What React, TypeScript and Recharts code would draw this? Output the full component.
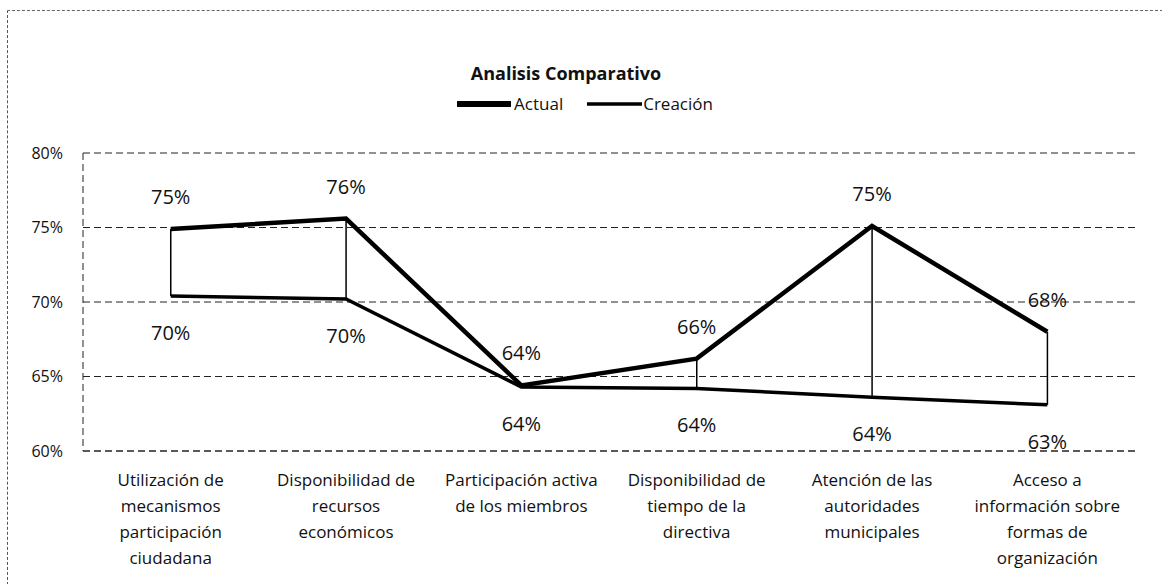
import React from "react";
import {
  ComposedChart,
  Line,
  Bar,
  XAxis,
  YAxis,
  CartesianGrid,
  LabelList,
} from "recharts";

const FONT = "'Open Sans', 'Noto Sans', sans-serif";

const categories = [
  "Utilización de\nmecanismos\nparticipación\nciudadana",
  "Disponibilidad de\nrecursos\neconómicos",
  "Participación activa\nde los miembros",
  "Disponibilidad de\ntiempo de la\ndirectiva",
  "Atención de las\nautoridades\nmunicipales",
  "Acceso a\ninformación sobre\nformas de\norganización",
];
const actual = [74.9, 75.6, 64.4, 66.2, 75.1, 68.0];
const creacion = [70.4, 70.2, 64.3, 64.2, 63.6, 63.1];
const yTicks = [60, 65, 70, 75, 80];

const data = categories.map((c, i) => ({
  name: c,
  actual: actual[i],
  creacion: creacion[i],
  range: [creacion[i], actual[i]],
}));

const pct = (v: number) => `${Math.round(v)}%`;

// wrapped category text, one <tspan> per line
const CategoryTick = (props: any) => {
  const { x, y, payload } = props;
  const lines = String(payload.value).split("\n");
  return (
    <text
      x={x}
      y={y}
      textAnchor="middle"
      fontFamily={FONT}
      fontSize={17}
      fill="#111"
    >
      {lines.map((l, i) => (
        <tspan key={i} x={x} dy={i === 0 ? 27 : 26}>
          {l}
        </tspan>
      ))}
    </text>
  );
};

const labelAbove = (props: any) => {
  const { x, y, value } = props;
  return (
    <text
      x={x}
      y={y - 25}
      textAnchor="middle"
      fontFamily={FONT}
      fontSize={20}
      fill="#111"
    >
      {pct(value)}
    </text>
  );
};

const labelBelow = (props: any) => {
  const { x, y, value } = props;
  return (
    <text
      x={x}
      y={y + 44}
      textAnchor="middle"
      fontFamily={FONT}
      fontSize={20}
      fill="#111"
    >
      {pct(value)}
    </text>
  );
};

const ChartLegend = () => (
  <div
    style={{
      position: "absolute",
      top: 92,
      left: 0,
      width: 1162,
      display: "flex",
      justifyContent: "center",
      alignItems: "center",
      fontFamily: FONT,
      fontSize: 17,
      color: "#111",
      paddingLeft: 8,
      boxSizing: "border-box",
    }}
  >
    <svg width={54} height={10}>
      <line x1={0} y1={5} x2={54} y2={5} stroke="#000" strokeWidth={6} />
    </svg>
    <span style={{ marginLeft: 3, marginRight: 24 }}>Actual</span>
    <svg width={55} height={10}>
      <line x1={0} y1={5} x2={55} y2={5} stroke="#000" strokeWidth={3.5} />
    </svg>
    <span style={{ marginLeft: 1 }}>Creación</span>
  </div>
);

export default function App() {
  return (
    <div
      style={{
        position: "absolute",
        left: 0,
        top: 0,
        width: 1162,
        height: 584,
        background: "#fff",
      }}
    >
      <div
        style={{
          position: "absolute",
          left: 7,
          top: 10,
          width: 1155,
          height: 574,
          borderLeft: "1px dashed #555",
          borderTop: "1px dashed #666",
        }}
      />
      <div
        style={{
          position: "absolute",
          top: 61,
          left: 0,
          width: 1132,
          textAlign: "center",
          fontFamily: FONT,
          fontWeight: 700,
          fontSize: 18,
          color: "#111",
        }}
      >
        Analisis Comparativo
      </div>
      <ChartLegend />
      <div style={{ position: "absolute", left: 0, top: 0 }}>
        <ComposedChart
          width={1162}
          height={584}
          data={data}
          margin={{ top: 153, right: 27, bottom: 103, left: 0 }}
        >
          <CartesianGrid
            vertical={false}
            stroke="#222"
            strokeDasharray="7 4"
          />
          <XAxis
            dataKey="name"
            interval={0}
            height={30}
            tickLine={false}
            axisLine={{ stroke: "#222", strokeDasharray: "7 4" }}
            tick={<CategoryTick />}
          />
          <YAxis
            width={83}
            domain={[60, 80]}
            ticks={yTicks}
            tickFormatter={(v) => `${v}%`}
            tickLine={false}
            tickMargin={14}
            axisLine={{ stroke: "#222", strokeDasharray: "7 4" }}
            tick={{ fontFamily: FONT, fontSize: 16, fill: "#111" }}
          />
          <Bar
            dataKey="range"
            barSize={1.5}
            fill="#000"
            legendType="none"
            isAnimationActive={false}
          />
          <Line
            dataKey="creacion"
            name="Creación"
            stroke="#000"
            strokeWidth={3.5}
            dot={false}
            isAnimationActive={false}
          >
            <LabelList dataKey="creacion" content={labelBelow} />
          </Line>
          <Line
            dataKey="actual"
            name="Actual"
            stroke="#000"
            strokeWidth={4.5}
            dot={false}
            isAnimationActive={false}
          >
            <LabelList dataKey="actual" content={labelAbove} />
          </Line>
        </ComposedChart>
      </div>
    </div>
  );
}
